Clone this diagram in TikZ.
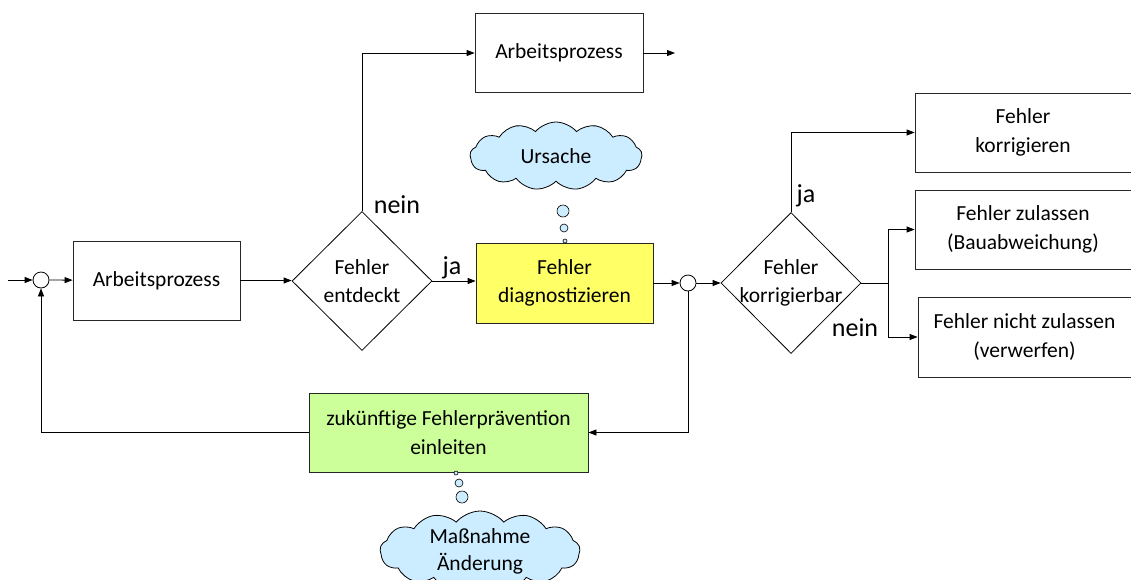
\documentclass[tikz,border=0pt]{standalone}
\usepackage{fontspec}
\setmainfont{Carlito}
\usetikzlibrary{shapes.geometric,shapes.symbols,arrows.meta}
\definecolor{boxyellow}{RGB}{255,255,102}
\definecolor{boxgreen}{RGB}{204,255,153}
\definecolor{cloudblue}{RGB}{204,236,255}
\tikzset{
  box/.style={draw=black!85,line width=0.8pt,rectangle,align=center,inner sep=0pt,font=\fontsize{21.5}{28.5}\selectfont},
  dia/.style={draw,line width=0.8pt,diamond,inner sep=0pt,minimum width=140pt,minimum height=139pt},
  diatext/.style={align=center,inner sep=0pt,font=\fontsize{21.5}{28.5}\selectfont},
  sumc/.style={draw,line width=0.8pt,circle,inner sep=0pt,minimum size=16pt},
  arr/.style={line width=0.8pt,-{Triangle[length=8pt,width=6pt]}},
  ln/.style={line width=0.8pt},
  lbl/.style={font=\fontsize{26}{30}\selectfont,inner sep=0pt},
  thought/.style={draw,line width=0.8pt,cloud,cloud ignores aspect,cloud puffs=13,cloud puff arc=100,fill=cloudblue,align=center,inner sep=0pt,font=\fontsize{21.5}{27}\selectfont},
  bub/.style={draw,line width=0.6pt,fill=cloudblue}
}
\begin{document}
\begin{tikzpicture}[x=1pt,y=-1pt]
\useasboundingbox (0,0) rectangle (1131,579);
\clip (0,0) rectangle (1131,579);
% nodes
\coordinate (in) at (8,280);
\node[sumc] (s1) at (41,280) {};
\node[box,minimum width=167pt,minimum height=79pt] (ap1) at (156.5,280.5) {Arbeitsprozess};
\node[dia] (d1) at (362,281) {};
\node[diatext] (d1t) at (d1.center) {Fehler\\entdeckt};
\node[box,minimum width=168pt,minimum height=79pt] (ap2) at (559,53) {Arbeitsprozess};
\coordinate (ap2out) at (675,53);
\node[box,fill=boxyellow,minimum width=177pt,minimum height=80pt] (diag) at (564.5,283) {Fehler\\diagnostizieren};
\node[sumc] (s2) at (688,283) {};
\node[dia,minimum height=141pt] (d2) at (791,283) {};
\node[diatext] (d2t) at (d2.center) {Fehler\\korrigierbar};
\node[box,minimum width=216pt,minimum height=79pt] (k) at (1023,132.5) {Fehler\\korrigieren};
\node[box,minimum width=216pt,minimum height=79pt] (z) at (1023,229.5) {Fehler zulassen\\(Bauabweichung)};
\node[box,minimum width=213pt,minimum height=80pt] (nz) at (1024.5,337) {Fehler nicht zulassen\\(verwerfen)};
\node[box,fill=boxgreen,minimum width=279pt,minimum height=79pt] (prev) at (448.5,432.5) {zukünftige Fehlerprävention\\einleiten};
\coordinate (br) at (888,283);
% clouds
\node[thought,minimum width=172pt,minimum height=68pt] (u) at (556,156) {Ursache};
\draw[bub] (563,211) circle (6);
\draw[bub] (564,228) circle (4);
\draw[bub] (565,241) circle (2);
\node[thought,minimum width=200pt,minimum height=80pt] (m) at (480,551) {Maßnahme\\Änderung};
\draw[bub] (456,473) circle (2);
\draw[bub] (459,483) circle (4);
\draw[bub] (462,497) circle (6);
% connectors
\draw[arr] (in) -- (s1);
\draw[arr] (s1) -- (ap1);
\draw[arr] (ap1) -- (ap1 -| d1.west);
\draw[arr] (d1.north) |- (ap2.west);
\draw[arr] (ap2) -- (ap2out);
\draw[arr] (d1.east) -- (d1.east -| diag.west);
\draw[arr] (diag) -- (s2);
\draw[arr] (s2) -- (d2);
\draw[arr] (d2.north) |- (k.west);
\draw[ln] (d2.east) -- (br);
\draw[arr] (br) |- (z.west);
\draw[arr] (br) |- (nz.west);
\draw[arr] (s2.south) |- (prev.east);
\draw[arr] (prev.west) -| (s1.south);
% labels
\node[lbl] (l1) at (397,205) {nein};
\node[lbl] (l2) at (452,268) {ja};
\node[lbl] (l3) at (806,196) {ja};
\node[lbl] (l4) at (855,328) {nein};
\end{tikzpicture}
\end{document}
